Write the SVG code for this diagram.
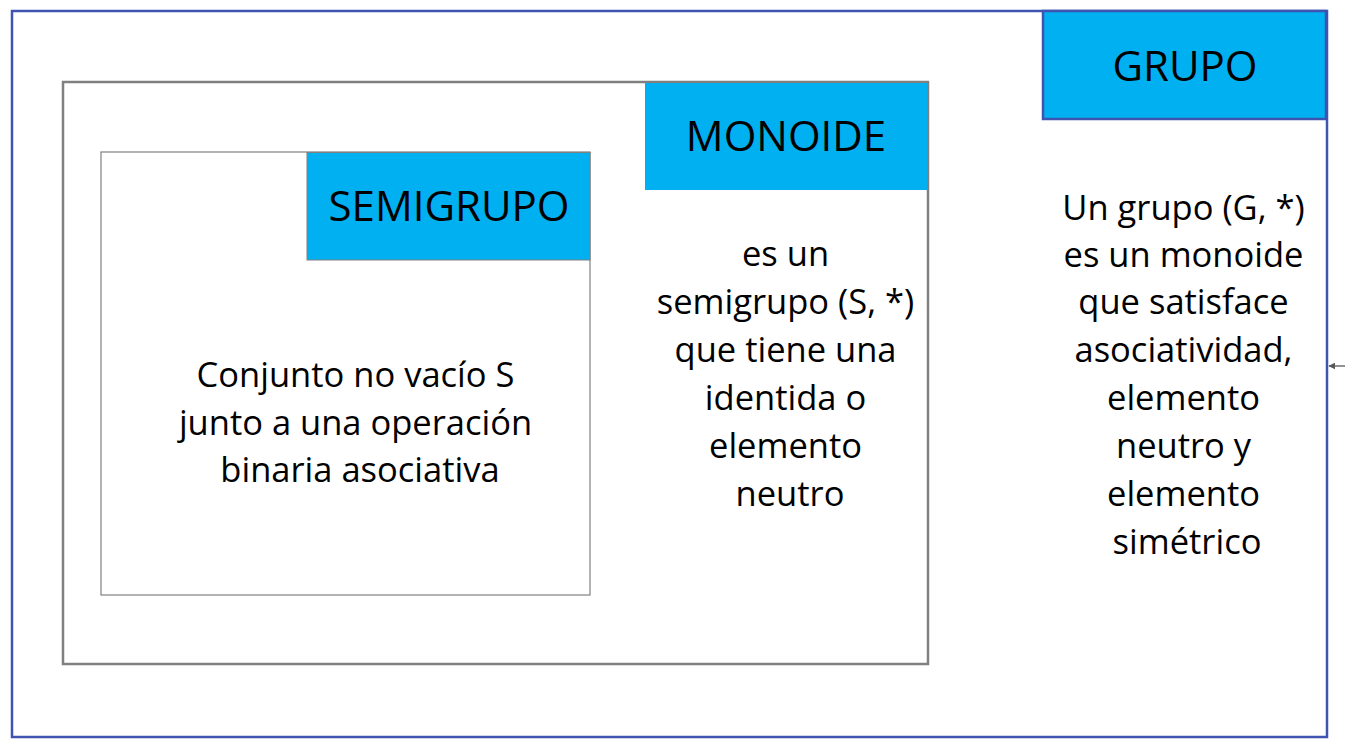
<svg xmlns="http://www.w3.org/2000/svg" width="1355" height="748" viewBox="0 0 1355 748">
<style>
.t{font-family:"Open Sans","Noto Sans",sans-serif;fill:#000;text-anchor:middle}
.h{font-size:42px}
.b{font-size:34.5px}
.hd{fill:#00B0F0}
</style>
<defs>
<marker id="ah" viewBox="0 0 10 10" refX="9" refY="5" markerWidth="7" markerHeight="7" markerUnits="userSpaceOnUse" orient="auto-start-reverse">
<path d="M0,0 L10,5 L0,10 z" fill="#595959"/>
</marker>
</defs>
<rect width="1355" height="748" fill="#fff"/>
<g id="grupo">
<rect x="12" y="11" width="1315" height="726" fill="none" stroke="#3F54B0" stroke-width="2.5"/>
<rect x="1043" y="11" width="283" height="108" class="hd" stroke="#3F54B0" stroke-width="2.5"/>
<text class="t h" x="1185" y="81">GRUPO</text>
<text class="t b">
<tspan x="1188" y="220">Un grupo (G, *)</tspan>
<tspan x="1188" y="267">es un monoide</tspan>
<tspan x="1188" y="314">que satisface</tspan>
<tspan x="1188" y="362">asociatividad,</tspan>
<tspan x="1188" y="410">elemento</tspan>
<tspan x="1188" y="458">neutro y</tspan>
<tspan x="1188" y="506">elemento</tspan>
<tspan x="1187" y="554">simétrico</tspan>
</text>
</g>
<g id="monoide">
<rect x="63" y="82" width="865" height="582" fill="none" stroke="#808080" stroke-width="2.5"/>
<rect x="645" y="83" width="282" height="107" class="hd"/>
<text class="t h" x="786" y="151">MONOIDE</text>
<text class="t b">
<tspan x="790" y="266">es un</tspan>
<tspan x="790" y="314">semigrupo (S, *)</tspan>
<tspan x="790" y="362">que tiene una</tspan>
<tspan x="790" y="410">identida o</tspan>
<tspan x="790" y="458">elemento</tspan>
<tspan x="790" y="506">neutro</tspan>
</text>
</g>
<g id="semigrupo">
<rect x="101" y="152" width="489" height="443" fill="none" stroke="#808080" stroke-width="1.2"/>
<rect x="307" y="152.5" width="283" height="107.5" class="hd" stroke="#808080" stroke-width="1"/>
<text class="t h" x="449" y="221">SEMIGRUPO</text>
<text class="t b">
<tspan x="360" y="387">Conjunto no vacío S</tspan>
<tspan x="360" y="435">junto a una operación</tspan>
<tspan x="360" y="482">binaria asociativa</tspan>
</text>
</g>
<g id="connectors">
<line x1="1345" y1="366" x2="1329" y2="366" stroke="#595959" stroke-width="1.3" marker-end="url(#ah)"/>
</g>
</svg>
